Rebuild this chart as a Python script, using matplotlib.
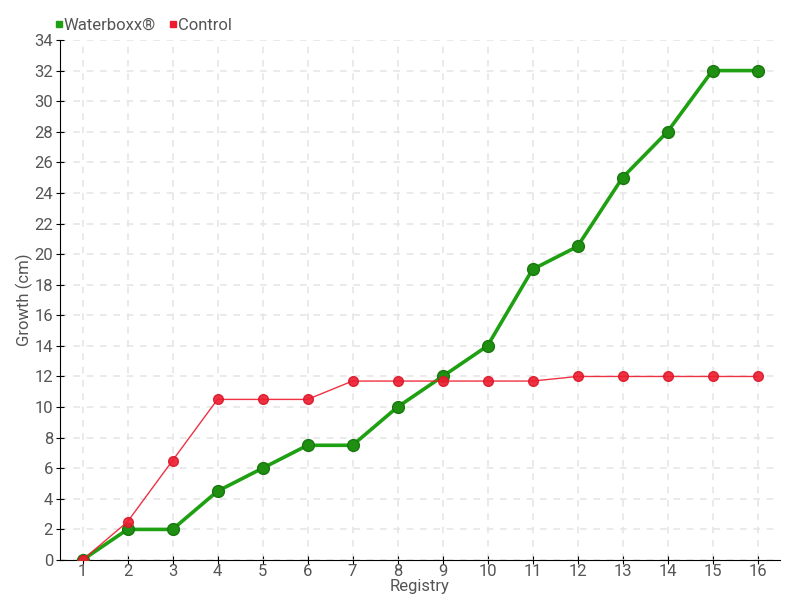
import matplotlib
matplotlib.use("Agg")
import matplotlib.pyplot as plt
from matplotlib.lines import Line2D

registry = list(range(1, 17))
waterboxx = [0, 2, 2, 4.5, 6, 7.5, 7.5, 10, 12, 14, 19, 20.5, 25, 28, 32, 32]
control = [0, 2.5, 6.5, 10.5, 10.5, 10.5, 11.7, 11.7, 11.7, 11.7, 11.7, 12, 12, 12, 12, 12]
y_ticks = list(range(0, 35, 2))

plt.rcParams['font.family'] = ['Roboto', 'DejaVu Sans']
fig = plt.figure(figsize=(8, 6), dpi=100)
ax = fig.add_axes([60/800, 40/600, 720/800, 520/600])

green = '#1fa012'
red = '#ee1c2e'
ax.plot(registry, waterboxx, color=green, lw=2.6, marker='o', ms=8.5, mfc='#1f8f12', mec='#18780e', zorder=3)
ax.plot(registry, control, color=red, lw=1, marker='o', ms=7, mfc=red, mec='#d8192a', alpha=0.9, zorder=4)

ax.set_xlim(0.5, 16.5)
ax.set_ylim(0, 34)
ax.set_xticks(registry)
ax.set_yticks(y_ticks)
ax.grid(True, color='#e6e6e6', linestyle=(0, (4, 4)), lw=1.2)
ax.set_axisbelow(True)
for s in ['top', 'right']:
    ax.spines[s].set_visible(False)
ax.spines['left'].set_color('black')
ax.spines['bottom'].set_color('black')
ax.tick_params(axis='both', colors='black', labelcolor='#555555', labelsize=12, direction='inout', length=6)
ax.tick_params(axis='x', pad=0)
ax.tick_params(axis='y', pad=2)
ax.set_xlabel('Registry', color='#555555', fontsize=12)
ax.set_ylabel('Growth (cm)', color='#555555', fontsize=12)
ax.xaxis.set_label_coords(0.5, (560 - 579) / 520)
ax.yaxis.set_label_coords((33 - 60) / 720, 0.5)

handles = [Line2D([], [], ls='none', marker='s', ms=5, color=green, label='Waterboxx®'),
           Line2D([], [], ls='none', marker='s', ms=5, color=red, label='Control')]
fig.legend(handles=handles, loc='upper left', bbox_to_anchor=(44/800, 1 - 11/600), ncol=2,
           frameon=False, fontsize=12, handletextpad=-0.2, columnspacing=0.5, labelcolor='#555555',
           handlelength=1.0, borderaxespad=0)

fig.savefig('out.png', dpi=100)
